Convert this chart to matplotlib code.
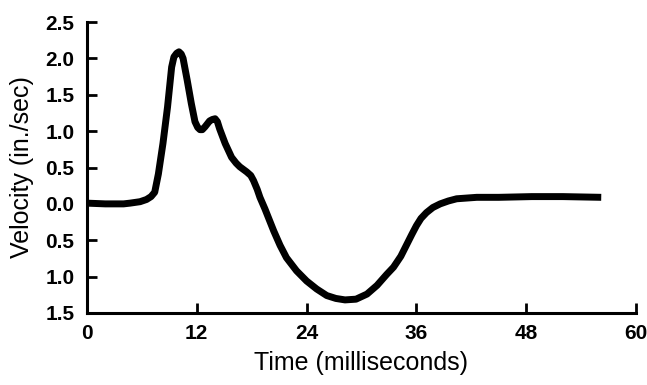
import matplotlib
matplotlib.use('Agg')
import matplotlib.pyplot as plt

# values
time_ms = [0, 2, 4, 4.7, 5.8, 6.5, 7.0, 7.4, 7.8, 8.3, 8.8, 9.25, 9.5, 9.8,
           10.05, 10.3, 10.5, 10.95, 11.4, 11.8, 12.1, 12.35, 12.6, 12.9,
           13.4, 13.7, 14.0, 14.25, 14.5, 15.1, 15.8, 16.3, 16.7, 17.45,
           17.9, 18.2, 18.6, 18.9, 19.45, 20.4, 21.1, 21.8, 22.9, 24.0,
           25.1, 26.2, 27.2, 28.2, 29.4, 30.6, 31.7, 32.75, 33.5, 34.3,
           34.9, 35.5, 36.0, 36.5, 37.1, 37.8, 38.6, 39.5, 40.4, 42.6,
           45.0, 48.6, 52.0, 56.2]
velocity = [0.01, 0.0, 0.0, 0.01, 0.03, 0.06, 0.1, 0.16, 0.41, 0.83, 1.33,
            1.88, 2.02, 2.07, 2.09, 2.06, 2.0, 1.70, 1.38, 1.13, 1.05, 1.02,
            1.02, 1.06, 1.14, 1.16, 1.17, 1.13, 1.03, 0.83, 0.64, 0.56, 0.51,
            0.44, 0.39, 0.32, 0.2, 0.09, -0.07, -0.37, -0.57, -0.74, -0.92,
            -1.06, -1.17, -1.26, -1.30, -1.32, -1.31, -1.24, -1.12, -0.97,
            -0.87, -0.72, -0.57, -0.42, -0.30, -0.2, -0.12, -0.05, 0.0, 0.04,
            0.07, 0.09, 0.09, 0.10, 0.10, 0.09]

x_ticks = [0, 12, 24, 36, 48, 60]
y_ticks = [2.5, 2.0, 1.5, 1.0, 0.5, 0.0, -0.5, -1.0, -1.5]
y_tick_labels = ['2.5', '2.0', '1.5', '1.0', '0.5', '0.0', '0.5', '1.0', '1.5']

font = ['Liberation Sans Narrow', 'Liberation Sans', 'DejaVu Sans']
plt.rcParams['font.family'] = font

fig = plt.figure(figsize=(6.47, 3.85), dpi=100)
ax = fig.add_axes([87 / 647, 1 - 313 / 385, (636 - 87) / 647, (313 - 22) / 385])

ax.plot(time_ms, velocity, color='black', linewidth=5,
        solid_joinstyle='round', solid_capstyle='butt')

ax.set_xlim(0, 60)
ax.set_ylim(-1.5, 2.5)
ax.set_xticks(x_ticks)
ax.set_yticks(y_ticks)
ax.set_yticklabels(y_tick_labels)

for s in ['top', 'right']:
    ax.spines[s].set_visible(False)
for s in ['left', 'bottom']:
    ax.spines[s].set_linewidth(2.2)
    ax.spines[s].set_color('black')

ax.tick_params(direction='in', length=7, width=2, colors='black',
               labelsize=15)
ax.tick_params(axis='x', pad=8)
ax.tick_params(axis='y', pad=9)
for lbl in ax.get_xticklabels() + ax.get_yticklabels():
    lbl.set_fontweight('bold')

ax.set_xlabel('Time (milliseconds)', fontsize=18, labelpad=6)
ax.set_ylabel('Velocity (in./sec)', fontsize=18, labelpad=8)

plt.savefig('out.png', dpi=100, facecolor='white')
plt.close()
